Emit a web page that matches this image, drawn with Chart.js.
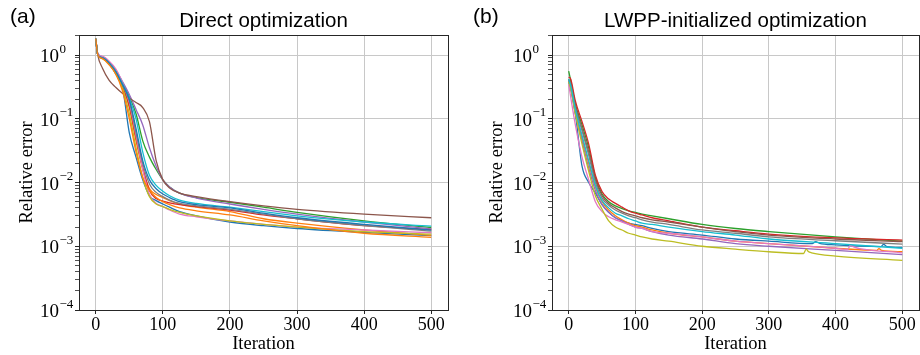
<!DOCTYPE html>
<html>
<head>
<meta charset="utf-8">
<script src="https://cdn.jsdelivr.net/npm/chart.js@4.4.1/dist/chart.umd.min.js"></script>
<style>
body{margin:0;background:#fff;width:920px;height:355px;overflow:hidden;position:relative}
canvas{position:absolute;top:0}
#left{left:0}
#right{left:460px}
</style>
</head>
<body>
<canvas id="left" width="460" height="355"></canvas>
<canvas id="right" width="460" height="355"></canvas>
<script>
const iters = [0,3,10,20,30,40,50,60,70,80,90,100,110,125,150,200,250,300,400,500];

const xTicks = [0,100,200,300,400,500];
const yTickPowers = [-4,-3,-2,-1,0];

// matplotlib tab10 colours
const tab10 = {blue:'#1f77b4', orange:'#ff7f0e', green:'#2ca02c', red:'#d62728', purple:'#9467bd',
  brown:'#8c564b', pink:'#e377c2', gray:'#7f7f7f', olive:'#bcbd22', cyan:'#17becf'};

// (a) direct optimization
const directBlue    = [1.8,1.0,0.9,0.72,0.5,0.3,0.06,0.025,0.011,0.0062,0.0052,0.0046,0.0041,0.0035,0.003,0.0024,0.0021,0.0019,0.00165,0.00147];
const directOrange  = [1.8,1.0,0.9,0.74,0.53,0.32,0.15,0.045,0.016,0.008,0.0065,0.0058,0.0052,0.0046,0.0041,0.0035,0.0027,0.0023,0.0018,0.00148];
const directGreen   = [1.8,1.05,0.92,0.76,0.56,0.36,0.22,0.12,0.045,0.025,0.016,0.011,0.0085,0.0068,0.0058,0.0049,0.0041,0.0034,0.0025,0.00197];
const directRed     = [1.8,1.0,0.9,0.74,0.53,0.33,0.16,0.05,0.017,0.0075,0.0056,0.0051,0.0048,0.0045,0.0042,0.0037,0.0031,0.0027,0.0021,0.00183];
const directPurple  = [1.8,1.05,0.94,0.78,0.58,0.38,0.24,0.14,0.08,0.035,0.018,0.011,0.0085,0.0068,0.0057,0.0046,0.0038,0.0032,0.0024,0.00188];
const directBrown   = [1.8,1.0,0.62,0.4,0.31,0.25,0.21,0.18,0.15,0.09,0.022,0.011,0.0082,0.0068,0.006,0.005,0.0043,0.0038,0.0032,0.0028];
const directPink    = [1.8,1.05,0.95,0.8,0.6,0.36,0.18,0.055,0.016,0.0065,0.0047,0.0042,0.0037,0.0032,0.0029,0.0025,0.0022,0.002,0.0018,0.00163];
const directGray    = [1.8,1.0,0.9,0.75,0.55,0.34,0.19,0.06,0.02,0.0095,0.007,0.006,0.0053,0.0047,0.0043,0.0038,0.0032,0.0027,0.0021,0.00173];
const directOlive   = [1.8,1.0,0.88,0.72,0.5,0.3,0.12,0.035,0.012,0.006,0.0046,0.0042,0.0038,0.0034,0.003,0.0025,0.0022,0.002,0.0017,0.00155];
const directCyan    = [1.8,1.0,0.91,0.75,0.55,0.35,0.21,0.1,0.03,0.013,0.009,0.0073,0.0062,0.0053,0.0047,0.0041,0.0035,0.003,0.0024,0.00207];
const directBlue2   = [1.8,1.0,0.9,0.74,0.54,0.34,0.2,0.07,0.022,0.011,0.008,0.0066,0.0058,0.005,0.0045,0.004,0.0033,0.0028,0.0022,0.00179];
const directOrange2 = [1.8,1.0,0.88,0.7,0.5,0.27,0.1,0.03,0.012,0.0075,0.0058,0.005,0.0045,0.004,0.0036,0.0031,0.0025,0.0021,0.0016,0.00138];

// (b) LWPP-initialized optimization
const lwppBlue   = [0.38,0.3,0.12,0.018,0.01,0.0068,0.0045,0.0034,0.0028,0.0025,0.0023,0.0022,0.0021,0.0019,0.0017,0.0015,0.0013,0.0012,0.00105,0.00096];
const lwppOrange = [0.4,0.32,0.13,0.05,0.02,0.0085,0.005,0.0037,0.003,0.0026,0.0023,0.0021,0.002,0.0018,0.0016,0.0014,0.0012,0.0011,0.00093,0.00082];
const lwppGreen  = [0.56,0.4,0.17,0.08,0.035,0.012,0.0066,0.005,0.0043,0.0039,0.0036,0.0034,0.0032,0.003,0.0027,0.0022,0.0019,0.0017,0.0014,0.0012];
const lwppRed    = [0.45,0.42,0.19,0.09,0.04,0.013,0.0072,0.0055,0.0047,0.0041,0.0036,0.0033,0.0031,0.0028,0.0025,0.002,0.00175,0.00155,0.00135,0.00125];
const lwppPurple = [0.4,0.3,0.12,0.045,0.017,0.0075,0.0045,0.0034,0.0028,0.0025,0.0022,0.002,0.0019,0.0017,0.0015,0.0013,0.0011,0.001,0.00086,0.00074];
const lwppBrown  = [0.42,0.36,0.16,0.07,0.03,0.011,0.0062,0.0047,0.004,0.0035,0.0032,0.003,0.0028,0.0026,0.0024,0.002,0.0017,0.0015,0.0013,0.00118];
const lwppPink   = [0.35,0.22,0.08,0.025,0.011,0.005,0.0035,0.0029,0.0026,0.0024,0.0022,0.002,0.0019,0.0017,0.0016,0.0014,0.0012,0.0011,0.00093,0.00079];
const lwppGray   = [0.4,0.34,0.15,0.065,0.027,0.01,0.0057,0.0044,0.0037,0.0033,0.003,0.0028,0.0026,0.0024,0.0022,0.0018,0.0016,0.0014,0.00122,0.00108];
const lwppOlive  = [0.38,0.3,0.12,0.04,0.015,0.0062,0.0038,0.0025,0.002,0.0018,0.0016,0.0015,0.0014,0.0013,0.0012,0.001,0.0009,0.00082,0.0007,0.0006];
const lwppCyan   = [0.42,0.33,0.14,0.055,0.022,0.009,0.0052,0.004,0.0033,0.003,0.0027,0.0025,0.0023,0.0022,0.002,0.0017,0.0015,0.0013,0.0011,0.00093];

// little bumps late in the LWPP runs [iteration, value]
const lwppOliveBump  = [[352,0.00077],[356,0.0009],[359,0.00083],[364,0.00079]];
const lwppPinkBump   = [[418,0.00089],[422,0.00103],[428,0.00097],[436,0.00092]];
const lwppBlueBump   = [[365,0.0011],[370,0.00118],[376,0.00111],[468,0.00099],[472,0.00107],[477,0.00099]];
const lwppOrangeBump = [[462,0.00086],[465,0.00092],[469,0.00086]];

function makeSet(vals, color, bump){
  let pts = iters.map((it,i)=>({x:it, y:vals[i]}));
  if(bump){
    bump.forEach(b=>pts.push({x:b[0], y:b[1]}));
    pts.sort((a,b)=>a.x-b.x);
  }
  return {data:pts, borderColor:color, borderWidth:1.3, pointRadius:0, fill:false,
    cubicInterpolationMode:'monotone'};
}

// draws the box, the 10^n labels, the panel title and the letter
const decor = {
  id:'decor',
  afterDraw(chart, args, o){
    const ctx = chart.ctx, a = chart.chartArea, ys = chart.scales.y;
    ctx.save();
    ctx.strokeStyle = '#262626';
    ctx.lineWidth = 1;
    ctx.strokeRect(a.left+0.5, a.top+0.5, a.right-a.left, a.bottom-a.top);

    ctx.fillStyle = '#000';
    ctx.textBaseline = 'alphabetic';
    ctx.textAlign = 'left';
    yTickPowers.forEach(p=>{
      let y = ys.getPixelForValue(Math.pow(10,p));
      ctx.font = '19px "Liberation Serif"';
      ctx.fillText('10', a.left-39, y+7);
      let w = ctx.measureText('10').width;
      ctx.font = '13px "Liberation Serif"';
      ctx.fillText(p===0 ? '0' : '\u2212'+(-p), a.left-39+w+0.5, y-2.5);
    });

    ctx.font = '20.5px "Liberation Sans"';
    ctx.textAlign = 'center';
    ctx.fillText(o.title, (a.left+a.right)/2, 27);
    ctx.font = '21px "Liberation Sans"';
    ctx.textAlign = 'left';
    ctx.fillText(o.letter, o.letterX, 22.5);
    ctx.restore();
  }
};

function makeChart(id, sets, axisW, padRight, yTitlePad, title, letter, letterX){
  return new Chart(document.getElementById(id), {
    type:'line',
    data:{datasets:sets.slice().reverse()},   // last series on top like matplotlib
    plugins:[decor],
    options:{
      responsive:false,
      animation:false,
      devicePixelRatio:1,
      layout:{padding:{top:35, right:padRight, left:0, bottom:0}},
      plugins:{legend:{display:false}, tooltip:{enabled:false}, decor:{title:title, letter:letter, letterX:letterX}},
      scales:{
        x:{
          type:'linear', min:-25, max:525,
          afterBuildTicks:(s)=>{ s.ticks = xTicks.map(v=>({value:v})); },
          afterFit:(s)=>{ s.height = 45; },
          grid:{color:'#c8c8c8', lineWidth:1, tickColor:'#262626', tickLength:4},
          border:{display:false},
          ticks:{font:{family:'Liberation Serif', size:18}, color:'#000', padding:0, maxRotation:0, autoSkip:false},
          title:{display:true, text:'Iteration', font:{family:'Liberation Serif', size:18.5}, color:'#000', padding:{top:0,bottom:0}}
        },
        y:{
          type:'logarithmic', min:1e-4, max:2.06,
          afterBuildTicks:(s)=>{
            let t = [];
            yTickPowers.forEach(p=>{
              for(let m=1;m<=9;m++){
                let v = m*Math.pow(10,p);
                if(v<=2.06) t.push({value:v});
              }
            });
            s.ticks = t;
          },
          afterFit:(s)=>{ s.width = axisW; },
          grid:{
            color:(c)=>{ let l = Math.log10(c.tick.value); return Math.abs(l-Math.round(l))<1e-6 ? '#c8c8c8' : 'rgba(0,0,0,0)'; },
            lineWidth:1, tickColor:'#262626', tickLength:4,
            tickWidth:(c)=>{ let l = Math.log10(c.tick.value); return Math.abs(l-Math.round(l))<1e-6 ? 1 : 0.8; }
          },
          border:{display:false},
          ticks:{display:false},
          title:{display:true, text:'Relative error', font:{family:'Liberation Serif', size:18.5}, color:'#000', padding:{top:yTitlePad,bottom:0}}
        }
      }
    }
  });
}

let leftSets = [
  makeSet(directBlue, tab10.blue), makeSet(directOrange, tab10.orange), makeSet(directGreen, tab10.green),
  makeSet(directRed, tab10.red), makeSet(directPurple, tab10.purple), makeSet(directBrown, tab10.brown),
  makeSet(directPink, tab10.pink), makeSet(directGray, tab10.gray), makeSet(directOlive, tab10.olive),
  makeSet(directCyan, tab10.cyan), makeSet(directBlue2, tab10.blue), makeSet(directOrange2, tab10.orange)
];
let rightSets = [
  makeSet(lwppBlue, tab10.blue, lwppBlueBump), makeSet(lwppOrange, tab10.orange, lwppOrangeBump), makeSet(lwppGreen, tab10.green),
  makeSet(lwppRed, tab10.red), makeSet(lwppPurple, tab10.purple), makeSet(lwppBrown, tab10.brown),
  makeSet(lwppPink, tab10.pink, lwppPinkBump), makeSet(lwppGray, tab10.gray), makeSet(lwppOlive, tab10.olive, lwppOliveBump),
  makeSet(lwppCyan, tab10.cyan)
];

makeChart('left', leftSets, 79, 12, 16, 'Direct optimization', '(a)', 10);
makeChart('right', rightSets, 92, 1, 26, 'LWPP-initialized optimization', '(b)', 13);
</script>
</body>
</html>
